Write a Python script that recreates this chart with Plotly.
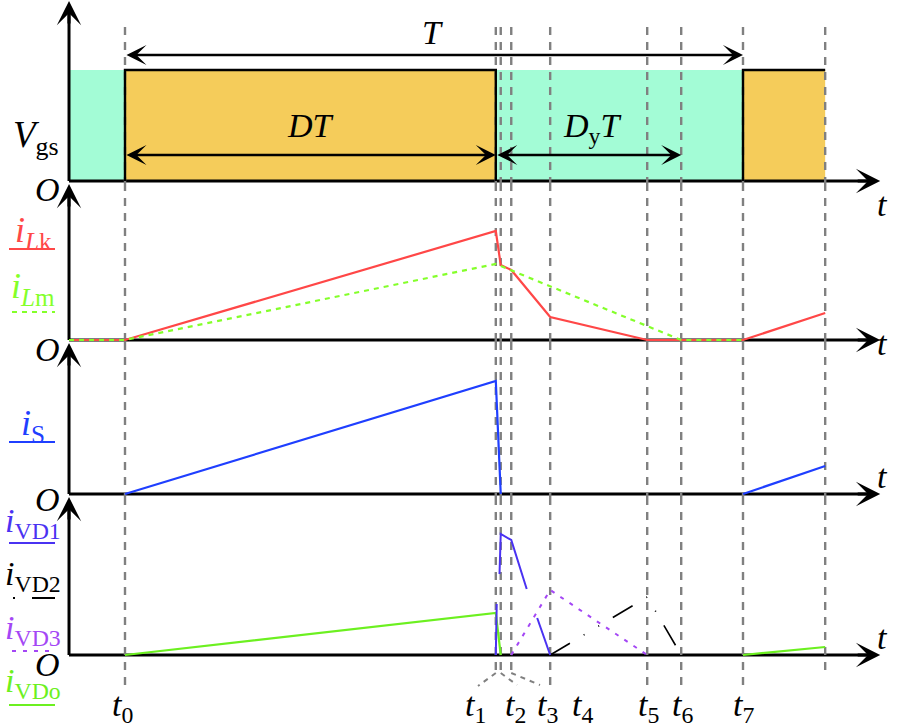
import plotly.graph_objects as go

W, H = 898, 728
FONT = "Liberation Serif, Times New Roman, DejaVu Serif, serif"

# ---------------- data ----------------
# switching instants t0..t7 in units of the switching period T
t_instants = [0.000, 0.600, 0.608, 0.625, 0.688, 0.845, 0.900, 1.000]
t_subs = ["0", "1", "2", "3", "4", "5", "6", "7"]
t_next = 1.133      # end of the drawn part of the next period
t_origin = -0.0906  # start of the time axes
t_arrow = 1.222     # tip of the time axes

# gate-source voltage (normalised)
vgs_level = 1.0
vgs_on_start = [0.000, 1.000]
vgs_on_end = [0.600, 1.133]
vgs_off_start = [-0.0906, 0.600]
vgs_off_end = [0.000, 1.000]

# inductor currents
iLk_t = [-0.0906, 0.000, 0.600, 0.608, 0.625, 0.688, 0.845, 1.000, 1.133]
iLk_v = [0, 0, 1.09, 0.75, 0.70, 0.23, 0, 0, 0.27]
iLm_t = [-0.0906, 0.000, 0.600, 0.900, 1.000]
iLm_v = [0, 0, 0.76, 0, 0]
# switch current
iS_t = [0.000, 0.600, 0.608, None, 1.000, 1.133]
iS_v = [0, 1.13, 0, None, 0, 0.28]
# diode currents
iVD1_t = [0.600, 0.6015, None, 0.606, 0.608, 0.625, 0.650, None, 0.667, 0.688]
iVD1_v = [0, 0.51, None, 0.81, 1.21, 1.15, 0.66, None, 0.37, 0]
iVD2_t = [0.688, 0.845, 0.900]
iVD2_v = [0, 0.58, 0]
iVD3_t = [0.625, 0.688, 0.845]
iVD3_v = [0, 0.65, 0]
iVDo_t = [0.000, 0.600, 0.608, None, 1.000, 1.133]
iVDo_v = [0, 0.42, 0, None, 0, 0.08]

# ---------------- styling / geometry ----------------
RED = "#ff4747"
GREEN_LM = "#84ff2a"
BLUE = "#1f3fff"
VD1C = "#4a32f2"
VD3C = "#a447f5"
VDOC = "#6cf020"
AQUA = "#a3fcd6"
GOLD = "#f5cc5a"
GRAY = "#808080"

X0 = (0 - 125) / 618.0
X1 = (W - 125) / 618.0


def px(t):
    return 125 + 618.0 * t


def xp(pxv):
    return pxv / W


def yp(pyv):
    return 1 - pyv / H


# (axis id, baseline py, domain top py, domain bottom py, px per unit, arrow tip py)
panels = [
    ("y", 181, 0, 183, 111.0, 1),
    ("y2", 340, 183, 342, 100.0, 184),
    ("y3", 494, 342, 497, 100.0, 343),
    ("y4", 655, 497, 728, 100.0, 497),
]

fig = go.Figure()
layout_axes = {}
shapes = []
annotations = []

guide_t = t_instants + [t_next]
guide_top = 27
guide_bottom = [688, 673, 673, 673, 685, 685, 685, 685, 672]

for i, (yid, base, top, bot, sc, tip) in enumerate(panels):
    key = "yaxis" if yid == "y" else "yaxis" + yid[1:]
    layout_axes[key] = dict(domain=[yp(bot), yp(top)],
                            range=[(base - bot) / sc, (base - top) / sc],
                            visible=False, showgrid=False, zeroline=False,
                            anchor="x", fixedrange=True)
    # gray dashed guides inside this panel
    gx, gy = [], []
    for t, gb in zip(guide_t, guide_bottom):
        a = max(top, guide_top)
        b = min(bot, gb)
        if a < b:
            gx += [t, t, None]
            gy += [(base - a) / sc, (base - b) / sc, None]
    fig.add_trace(go.Scatter(x=gx, y=gy, yaxis=yid, mode="lines",
                             line=dict(color=GRAY, width=2.4, dash="8px,7px"),
                             hoverinfo="skip", showlegend=False))
    # axes lines
    tipv = (base - tip) / sc
    shapes.append(dict(type="line", xref="x", yref=yid, layer="below",
                       x0=t_origin, x1=t_arrow - 0.02, y0=0, y1=0,
                       line=dict(color="black", width=3)))
    shapes.append(dict(type="line", xref="x", yref=yid, layer="below",
                       x0=t_origin, x1=t_origin, y0=0, y1=tipv - 0.1,
                       line=dict(color="black", width=3)))
    annotations.append(dict(x=t_arrow, y=0, xref="x", yref=yid, ax=-24, ay=0,
                            text="", showarrow=True, arrowhead=3, arrowsize=1.35,
                            arrowwidth=3, arrowcolor="black", standoff=0))
    annotations.append(dict(x=t_origin, y=tipv, xref="x", yref=yid, ax=0, ay=24,
                            text="", showarrow=True, arrowhead=3, arrowsize=1.35,
                            arrowwidth=3, arrowcolor="black", standoff=0))
    # "t" at axis end
    annotations.append(dict(x=xp(890), y=yp(base + 3), xref="paper", yref="paper",
                            text="<i>t</i>", showarrow=False,
                            font=dict(family=FONT, size=34, color="black")))

# Vgs fills (below everything else in the panel)
vgs_fill = []
for a, b in zip(vgs_off_start, vgs_off_end):
    vgs_fill.append(dict(type="rect", xref="x", yref="y", layer="below",
                         x0=a, x1=b, y0=0, y1=vgs_level,
                         fillcolor=AQUA, line=dict(width=0)))
for a, b in zip(vgs_on_start, vgs_on_end):
    vgs_fill.append(dict(type="rect", xref="x", yref="y", layer="below",
                         x0=a, x1=b, y0=0, y1=vgs_level,
                         fillcolor=GOLD, line=dict(width=0)))
shapes = vgs_fill + shapes

# Vgs outline
ox, oy = [], []
for a, b in zip(vgs_on_start, vgs_on_end):
    if b < t_next:
        ox += [a, a, b, b, None]
        oy += [0, vgs_level, vgs_level, 0, None]
    else:
        ox += [a, a, b, None]
        oy += [0, vgs_level, vgs_level, None]
fig.add_trace(go.Scatter(x=ox, y=oy, yaxis="y", mode="lines",
                         line=dict(color="black", width=2.4),
                         hoverinfo="skip", showlegend=False))

# current traces
fig.add_trace(go.Scatter(x=iLk_t, y=iLk_v, yaxis="y2", mode="lines",
                         line=dict(color=RED, width=2.2), showlegend=False))
fig.add_trace(go.Scatter(x=iLm_t, y=iLm_v, yaxis="y2", mode="lines",
                         line=dict(color=GREEN_LM, width=2.2, dash="5px,5px"),
                         showlegend=False))
fig.add_trace(go.Scatter(x=iS_t, y=iS_v, yaxis="y3", mode="lines",
                         line=dict(color=BLUE, width=2.2), showlegend=False))
fig.add_trace(go.Scatter(x=iVDo_t, y=iVDo_v, yaxis="y4", mode="lines",
                         line=dict(color=VDOC, width=2.2), showlegend=False))
fig.add_trace(go.Scatter(x=iVD3_t, y=iVD3_v, yaxis="y4", mode="lines",
                         line=dict(color=VD3C, width=2.0, dash="4px,7px"),
                         showlegend=False))
fig.add_trace(go.Scatter(x=iVD2_t, y=iVD2_v, yaxis="y4", mode="lines",
                         line=dict(color="black", width=1.6,
                                   dash="23px,16px,1px,16px,1px,16px"),
                         showlegend=False))
fig.add_trace(go.Scatter(x=iVD1_t, y=iVD1_v, yaxis="y4", mode="lines",
                         line=dict(color=VD1C, width=2.0), showlegend=False))

# double arrows T, DT, DyT
T_y = (181 - 55) / 111.0
D_y = (181 - 155) / 111.0
for (a, b, yv) in [(t_instants[0], t_instants[7], T_y),
                   (t_instants[0], t_instants[1], D_y),
                   (t_instants[1], t_instants[6], D_y)]:
    annotations.append(dict(x=b, y=yv, ax=a, ay=yv, xref="x", yref="y",
                            axref="x", ayref="y", text="", showarrow=True,
                            arrowhead=3, arrowside="end+start", arrowsize=1.45,
                            arrowwidth=2.3, arrowcolor="black", standoff=0,
                            startstandoff=0))


def label(text, x, y, size, color="black", xanchor="center"):
    annotations.append(dict(x=xp(x), y=yp(y), xref="paper", yref="paper",
                            text=text, showarrow=False, xanchor=xanchor,
                            yanchor="middle",
                            font=dict(family=FONT, size=size, color=color)))


label("<i>T</i>", 432, 33, 34)
label("<i>DT</i>", 310, 125, 34)
label("<i>D</i><sub>y</sub><i>T</i>", 592, 128, 34)
label("<i>V</i><sub>gs</sub>", 36, 137, 37)

# origin labels
for yy in [190, 349, 499, 664]:
    label("<i>O</i>", 47, yy, 34)

# left signal labels
label("<i>i</i><sub><i>L</i>k</sub>", 33, 233, 36, RED)
label("<i>i</i><sub><i>L</i>m</sub>", 33, 289, 36, GREEN_LM)
label("<i>i</i><sub>S</sub>", 33, 425, 36, BLUE)
label("<i>i</i><sub>VD1</sub>", 33, 523, 34, VD1C)
label("<i>i</i><sub>VD2</sub>", 33, 576, 34, "black")
label("<i>i</i><sub>VD3</sub>", 33, 630, 34, VD3C)
label("<i>i</i><sub>VDo</sub>", 33, 683, 34, VDOC)


# underline samples
def uline(y, color, dash="solid", x0=9, x1=55, w=2.2):
    shapes.append(dict(type="line", xref="paper", yref="paper", layer="above",
                       x0=xp(x0), x1=xp(x1), y0=yp(y), y1=yp(y),
                       line=dict(color=color, width=w, dash=dash)))


uline(249, RED)
uline(312, GREEN_LM, "5px,5px", 12, 55)
uline(442, BLUE)
uline(543, VD1C)
uline(598, "black", "2px,17px,23px", 13, 55, 1.8)
uline(651, VD3C, "4px,7px", 12, 55)
uline(705, VDOC)

# time labels under the chart
t_label_px = [122, 475, 515, 547, 582, 648, 682, 743]
for sub, xx in zip(t_subs, t_label_px):
    label("<i>t</i><sub>" + sub + "</sub>", xx, 707, 34)

# leader lines from t1, t2, t3 guides to their labels
for t, (ex, ey) in zip(t_instants[1:4], [(478, 686), (517, 685), (540, 685)]):
    shapes.append(dict(type="line", xref="paper", yref="paper", layer="above",
                       x0=xp(px(t)), y0=yp(673), x1=xp(ex), y1=yp(ey),
                       line=dict(color=GRAY, width=2, dash="5px,5px")))

fig.update_layout(
    width=W, height=H, margin=dict(l=0, r=0, t=0, b=0),
    paper_bgcolor="white", plot_bgcolor="rgba(0,0,0,0)",
    xaxis=dict(range=[X0, X1], domain=[0, 1], visible=False, showgrid=False,
               zeroline=False, fixedrange=True),
    shapes=shapes, annotations=annotations, showlegend=False,
    **layout_axes,
)

fig.write_html("out.html")
